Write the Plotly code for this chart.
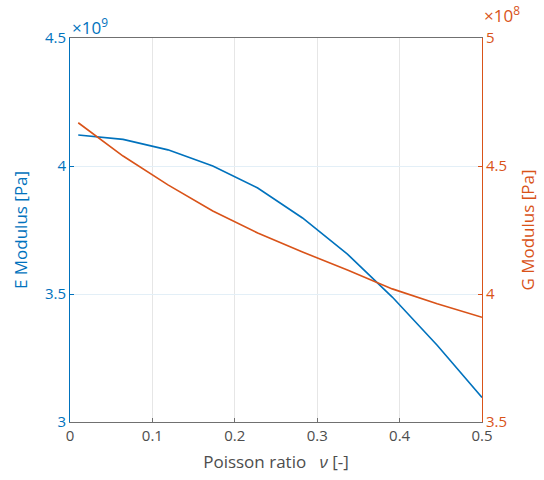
import plotly.graph_objects as go

# Data (E in 1e9 Pa, G in 1e8 Pa)
nu = [0.01, 0.0644, 0.1189, 0.1733, 0.2278, 0.2822, 0.3367, 0.3911, 0.4456, 0.5]
E_modulus = [4.121, 4.104, 4.063, 4.000, 3.914, 3.797, 3.656, 3.488, 3.300, 3.096]
G_modulus = [4.669, 4.539, 4.426, 4.324, 4.238, 4.164, 4.094, 4.020, 3.962, 3.909]

x_ticks = [0, 0.1, 0.2, 0.3, 0.4, 0.5]
x_labels = ["0", "0.1", "0.2", "0.3", "0.4", "0.5"]
e_ticks = [3, 3.5, 4, 4.5]
e_labels = ["3", "3.5", "4", "4.5"]
g_ticks = [3.5, 4, 4.5, 5]
g_labels = ["3.5", "4", "4.5", "5"]

BLUE = "#0072BD"
ORANGE = "#D95319"
AXC = "#707070"
TXT = "#4d4d4d"
FONT = "Open Sans"

fig = go.Figure()
fig.add_trace(go.Scatter(x=nu, y=E_modulus, mode="lines", line=dict(color=BLUE, width=1.6),
                         yaxis="y", showlegend=False))
fig.add_trace(go.Scatter(x=nu, y=G_modulus, mode="lines", line=dict(color=ORANGE, width=1.6),
                         yaxis="y2", showlegend=False))

fig.update_layout(
    width=544, height=480,
    margin=dict(l=70, r=62, t=38, b=58),
    paper_bgcolor="white", plot_bgcolor="white",
    font=dict(family=FONT, size=15, color=TXT),
    xaxis=dict(range=[0, 0.5], tickvals=x_ticks, ticktext=x_labels,
               showgrid=True, gridcolor="#e6e6e6", gridwidth=1,
               ticks="inside", ticklen=4, tickcolor=AXC,
               showline=True, linecolor=AXC, linewidth=1, mirror=True,
               zeroline=False, tickfont=dict(size=15, color=TXT), automargin=False,
               title=dict(text="Poisson ratio   <i>ν</i> [-]", font=dict(size=17, color=TXT), standoff=12)),
    yaxis=dict(range=[3, 4.5], tickvals=e_ticks, ticktext=e_labels,
               showgrid=True, gridcolor="#e3eff7", gridwidth=1,
               ticks="inside", ticklen=4, tickcolor=BLUE,
               showline=True, linecolor=BLUE, linewidth=1,
               zeroline=False, tickfont=dict(size=15, color=BLUE), automargin=False,
               title=dict(text="E Modulus [Pa]", font=dict(size=17, color=BLUE), standoff=12)),
    yaxis2=dict(range=[3.5, 5], tickvals=g_ticks, ticktext=g_labels,
                overlaying="y", side="right", showgrid=False,
                ticks="inside", ticklen=4, tickcolor=ORANGE,
                showline=True, linecolor=ORANGE, linewidth=1,
                zeroline=False, tickfont=dict(size=15, color=ORANGE), automargin=False,
                title=dict(text="G Modulus [Pa]", font=dict(size=17, color=ORANGE), standoff=16)),
)

fig.add_annotation(xref="paper", yref="paper", x=0, y=1, xanchor="left", yanchor="bottom",
                   text="×10<sup>9</sup>", showarrow=False, font=dict(size=17, color=BLUE), yshift=-3)
fig.add_annotation(xref="paper", yref="paper", x=1, y=1, xanchor="left", yanchor="bottom",
                   text="×10<sup>8</sup>", showarrow=False, font=dict(size=17, color=ORANGE), yshift=9)

fig.write_html("out.html")
